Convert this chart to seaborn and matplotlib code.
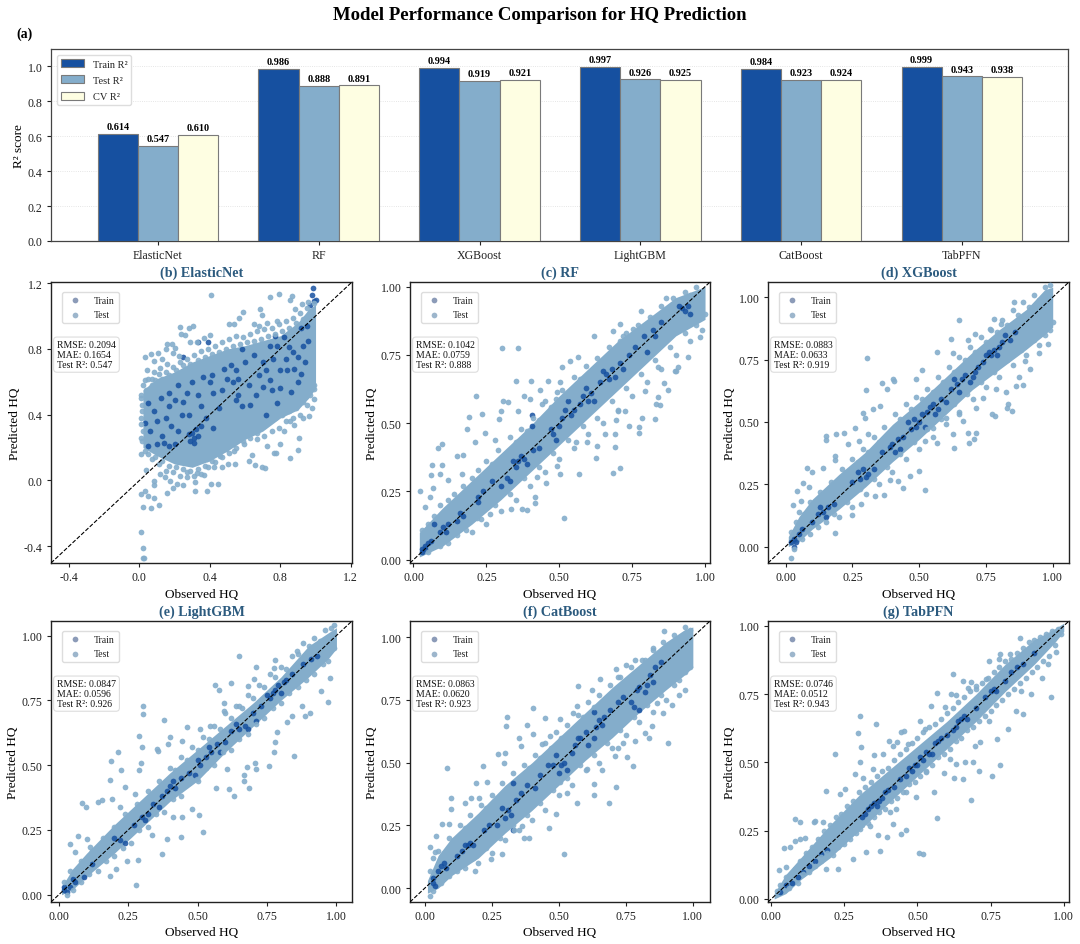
import numpy as np
import pandas as pd
import matplotlib
matplotlib.use("Agg")
import matplotlib.pyplot as plt
import matplotlib.ticker as mticker
import seaborn as sns

# Bar values
models = ["ElasticNet", "RF", "XGBoost", "LightGBM", "CatBoost", "TabPFN"]
train_r2 = [0.614, 0.986, 0.994, 0.997, 0.984, 0.999]
test_r2 = [0.547, 0.888, 0.919, 0.926, 0.923, 0.943]
cv_r2 = [0.610, 0.891, 0.921, 0.925, 0.924, 0.938]

# Error metrics in the text boxes
rmse = ["0.2094", "0.1042", "0.0883", "0.0847", "0.0863", "0.0746"]
mae = ["0.1654", "0.0759", "0.0633", "0.0596", "0.0620", "0.0512"]

# Scatter points. There are far too many to read one by one,
# so the solid core of each cloud is kept as a lo/hi envelope read at a few x values
# and only points that can be told apart, plus the rim of the cloud, are listed.
grid_x = [0.01, 0.05, 0.1, 0.2, 0.3, 0.4, 0.5, 0.6, 0.7, 0.8, 0.9, 0.97, 1.0]

en_core_x = [0.02, 0.1, 0.2, 0.3, 0.4, 0.5, 0.6, 0.7, 0.8, 0.9, 0.96, 1.0]
en_core_lo = [.2, .15, .1, .08, .12, .18, .25, .3, .38, .43, .5, .56]
en_core_hi = [.55, .62, .66, .72, .76, .8, .82, .85, .88, .96, 1.04, 1.07]
en_test = [(.404,1.13),(.743,1.117),(.792,1.136),(.866,1.12),(.853,1.10),(.588,1.026),(.682,1.045),(.696,1.004),(.563,.99),(.506,.953),(.535,.953),(.648,.953),(.677,.939),(.724,.96),(.781,.97),(.885,1.04),(.923,1.075),(.96,1.087),
    (.231,.933),(.282,.929),(.303,.939),(.237,.889),(.256,.885),(.155,.832),(.184,.832),(.402,.883),(.368,.864),(.326,.844),(.288,.844),(.203,.808),(.152,.802),(.193,.777),(.222,.757),(.03,.753),(.064,.767),(.104,.777),(.127,.737),(.085,.727),(.042,.67),(.08,.662),(.032,.611),(.07,.615),(.118,.686),(.155,.706),(.01,.50),(.013,.423),(.008,.342),(.008,.261),(.011,.16),
    (.038,.063),(.08,-.002),(.083,-.026),(.01,-.083),(.032,-.063),(.051,-.093),(.083,-.109),(.019,-.162),(.064,-.17),(.112,-.148),(.011,-.316),(.019,-.409),(.019,-.472),(.027,-.472),
    (.155,-.079),(.193,-.043),(.212,-.022),(.246,-.026),(.317,-.063),(.383,-.063),(.406,-.022),(.444,-.022),(.317,-.012),(.368,.034),(.118,.038),(.146,.018),(.174,-.002),(.269,.049),(.326,.043),(.421,.079),(.468,.079),(.502,.103),(.544,.103),(.62,.119),(.658,.093),(.696,.079),(.715,.075),(.639,.156),(.762,.17),(.777,.164),(.857,.134),(.899,.186),(.904,.261),(.876,.336),(.927,.379),(.961,.389),(.98,.443),(.99,.494),(.99,.555),(.8,.22),(.724,.21),(.667,.251),(.591,.22),(.535,.18),(.459,.15),(.383,.13),(.497,.241),(.819,.302),(.857,.362),(.923,.504)]
en_rim = [(.02,.58),(.04,.55),(.05,.62),(.07,.58),(.09,.61),(.11,.65),(.13,.62),(.15,.66),(.17,.64),(.19,.69),(.21,.67),(.23,.72),(.25,.7),(.27,.74),(.29,.71),(.31,.76),(.33,.73),(.35,.79),(.37,.75),(.39,.8),(.41,.77),(.43,.82),(.45,.78),(.47,.84),(.49,.8),(.51,.86),(.53,.82),(.55,.88),(.57,.83),(.59,.87),(.61,.84),(.63,.89),(.65,.85),(.67,.91),(.69,.86),(.71,.92),(.73,.88),(.75,.93),(.77,.89),(.79,.95),(.81,.91),(.83,.97),(.85,.93),(.87,.99),(.89,.96),(.91,1.02),(.93,.98),(.95,1.05),(.97,1.02),(.99,1.08),
    (.01,.52),(.015,.46),(.01,.38),(.02,.3),(.015,.24),(.03,.18),(.05,.16),(.07,.13),(.09,.14),(.11,.1),(.13,.12),(.15,.06),(.17,.09),(.19,.05),(.21,.08),(.23,.03),(.25,.07),(.27,.02),(.29,.06),(.31,.03),(.33,.07),(.35,.04),(.37,.09),(.39,.08),(.41,.12),(.43,.11),(.45,.16),(.47,.14),(.49,.19),(.51,.17),(.53,.22),(.55,.2),(.57,.26),(.59,.24),(.61,.28),(.63,.26),(.65,.31),(.67,.29),(.69,.34),(.71,.27),(.73,.36),(.75,.3),(.77,.38),(.79,.32),(.81,.4),(.83,.36),(.85,.42),(.87,.38),(.89,.44),(.91,.4),(.93,.48),(.95,.46),(.97,.52),(.99,.58)]
en_train = [(.30,.29),(.31,.26),(.32,.31),(.29,.24),(.33,.27),(.31,.23),(.28,.28),(.35,.33),(.1,.22),(.14,.23),(.17,.21),(.05,.21),(.2,.22),(.03,.35),(.05,.47),(.12,.5),(.17,.53),(.17,.45),(.2,.49),(.24,.4),(.27,.53),(.36,.63),(.4,.6),(.41,.64),(.42,.53),(.5,.62),(.53,.6),(.56,.52),(.55,.49),(.58,.45),(.62,.58),(.66,.52),(.7,.57),(.74,.61),(.8,.67),(.84,.67),(.86,.54),(.78,.47),(.72,.4),(.58,.8),(.65,.76),(.77,.88),(.82,.87),(.85,.81),(.92,.93),(.95,.94),(.98,1.13),(.99,1.09),(.97,1.07),(1.0,1.1),(.985,1.17),(.9,.75),(.93,.82),(.25,.75),(.22,.58),(.39,.84),(.33,.84),
    (.06,.3),(.08,.42),(.1,.36),(.13,.27),(.15,.38),(.18,.33),(.22,.3),(.25,.48),(.28,.4),(.3,.6),(.33,.52),(.35,.45),(.38,.38),(.42,.32),(.45,.44),(.47,.55),(.48,.68),(.52,.7),(.55,.67),(.56,.62),(.6,.72),(.63,.46),(.68,.64),(.7,.72),(.72,.67),(.75,.55),(.76,.74),(.8,.56),(.83,.74),(.88,.68),(.9,.6),(.92,.65),(.94,.72),(.96,.85),(.87,.78),(.78,.82),(.74,.82)]

rf_core_x = [0.02, 0.1, 0.2, 0.3, 0.4, 0.5, 0.6, 0.7, 0.8, 0.9, 1.0]
rf_core_lo = [.01, .05, .13, .22, .32, .42, .52, .62, .72, .82, .88]
rf_core_hi = [.1, .19, .29, .39, .49, .6, .7, .8, .88, .96, 1.0]
rf_test = [(.304,.777),(.358,.777),(.215,.60),(.19,.522),(.184,.479),(.234,.532),(.083,.409),(.098,.422),(.352,.653),(.308,.583),(.325,.579),(.403,.656),(.379,.60),(.301,.546),(.292,.516),
    (.517,.151),(.71,.337),(.684,.319),(.627,.371),(.566,.313),(.629,.415),(.692,.414),(.774,.465),(.774,.485),(.784,.519),(.828,.516),(.873,.622),(.86,.646),(.845,.568),(.839,.595),(.708,.863),(.78,.911),(.62,.82),(.865,.957),(.908,.707),(.94,.741),(.896,.692),
    (.064,.348),(.098,.347),(.059,.309),(.091,.315),(.148,.378),(.171,.382),(.211,.431),(.245,.463),(.28,.437),(.023,.251),(.068,.264),(.057,.23),(.04,.193),(.12,.291),(.166,.313),(.297,.327),
    (.388,.181),(.371,.184),(.333,.185),(.417,.208),(.417,.23),(.263,.169),(.217,.151),(.188,.142),(.454,.282),(.422,.303),(.502,.313),(.491,.345),(.559,.431),(.594,.431),(.656,.461),(.691,.461),(.74,.488),(.696,.51),(.725,.546),(.702,.546),(.793,.619),(.833,.571),(.839,.704),(.902,.692),(.982,.814),(.959,.869),(.685,.838),(.753,.844),(.719,.82),(.537,.729),(.565,.743),(.508,.707),(.462,.653),(.434,.622),(.491,.613),(.502,.65),(.44,.571),(.36,.546),(.4,.589)]
rf_rim = [(.03,.11),(.05,.13),(.07,.16),(.09,.2),(.1,.17),(.12,.22),(.14,.24),(.15,.21),(.17,.27),(.19,.25),(.2,.3),(.22,.33),(.24,.31),(.25,.36),(.27,.35),(.29,.4),(.31,.38),(.33,.45),(.35,.43),(.37,.48),(.39,.47),(.41,.52),(.43,.51),(.45,.58),(.47,.56),(.49,.59),(.51,.62),(.53,.6),(.55,.67),(.57,.66),(.59,.71),(.61,.69),(.63,.74),(.65,.72),(.67,.78),(.69,.76),(.71,.8),(.73,.83),(.75,.81),(.77,.86),(.79,.85),(.81,.89),(.83,.87),(.85,.93),(.87,.91),(.89,.96),(.91,.95),(.93,.98),(.95,.97),(.97,1.0),
    (.05,.03),(.09,.05),(.12,.06),(.15,.09),(.18,.11),(.2,.1),(.23,.15),(.25,.13),(.28,.2),(.3,.18),(.33,.24),(.35,.22),(.38,.3),(.4,.27),(.43,.34),(.45,.32),(.48,.39),(.5,.37),(.53,.44),(.55,.41),(.58,.49),(.6,.46),(.63,.52),(.65,.5),(.68,.58),(.7,.55),(.73,.63),(.75,.6),(.78,.68),(.8,.65),(.83,.73),(.85,.7),(.88,.78),(.9,.75),(.93,.83),(.95,.8),(.97,.86),(.99,.84),(1.0,.9),(.98,.92)]
rf_train = [(.03,.04),(.04,.05),(.05,.06),(.09,.1),(.1,.12),(.07,.13),(.16,.17),(.17,.16),(.22,.23),(.22,.21),(.32,.3),(.33,.29),(.36,.36),(.38,.37),(.35,.34),(.41,.4),(.48,.46),(.49,.44),(.5,.49),(.52,.55),(.54,.53),(.58,.6),(.6,.58),(.62,.58),(.66,.68),(.67,.66),(.68,.7),(.72,.7),(.74,.75),(.79,.82),(.8,.76),(.82,.84),(.92,.92),(.93,.91),(.95,.9),(.405,.53),(.405,.49),
    (.03,.03),(.04,.04),(.06,.07),(.11,.1),(.12,.13),(.15,.14),(.24,.25),(.27,.29),(.3,.27),(.34,.36),(.37,.38),(.39,.35),(.43,.41),(.47,.48),(.51,.52),(.53,.58),(.55,.55),(.57,.57),(.59,.63),(.61,.61),(.64,.65),(.65,.69),(.69,.67),(.71,.72),(.76,.78),(.83,.82),(.85,.87),(.91,.93),(.94,.93)]

xgb_core_lo = [0, .02, .07, .15, .24, .34, .43, .53, .63, .71, .79, .85, .88]
xgb_core_hi = [.04, .12, .19, .29, .38, .49, .58, .68, .78, .87, .95, 1.03, 1.04]
xgb_test = [(.304,.757),(.301,.628),(.36,.657),(.38,.633),(.401,.671),(.404,.664),(.509,.709),(.489,.673),(.568,.779),(.626,.775),(.621,.831),(.651,.909),(.78,.912),(.71,.851),(.683,.827),(.766,.871),(.856,.98),(.807,.891),(.291,.537),(.298,.515),(.326,.553),(.353,.565),(.15,.443),(.15,.427),(.19,.451),(.218,.455),(.258,.477),(.184,.364),(.184,.347),(.081,.317),(.098,.297),(.043,.224),(.064,.253),(.089,.24),(.026,.168),(.058,.181),(.276,.424),(.308,.451),(.233,.411),(.139,.315),
    (.02,-.045),(.184,.056),(.248,.128),(.283,.171),(.333,.204),(.37,.208),(.44,.235),(.52,.225),(.42,.264),(.464,.284),(.499,.301),(.389,.268),(.629,.397),(.568,.417),(.685,.415),(.705,.431),(.711,.455),(.683,.457),(.626,.451),(.664,.504),(.783,.524),(.774,.531),(.848,.543),(.834,.573),(.829,.557),(.789,.633),(.826,.621),(.861,.644),(.889,.648),(.874,.68),(.916,.713),(.949,.777),(.983,.813),(.895,.744),(.714,.557),(.739,.597),(.601,.517),(.651,.531),(.52,.424),(.551,.477)]
xgb_rim = [(.02,.06),(.04,.1),(.05,.14),(.07,.13),(.09,.18),(.11,.17),(.13,.22),(.15,.2),(.17,.26),(.19,.24),(.21,.31),(.23,.29),(.25,.35),(.27,.34),(.29,.39),(.31,.38),(.33,.44),(.35,.42),(.37,.48),(.39,.46),(.41,.53),(.43,.51),(.45,.57),(.47,.55),(.49,.6),(.51,.59),(.53,.63),(.55,.62),(.57,.68),(.59,.66),(.61,.72),(.63,.7),(.65,.76),(.67,.75),(.69,.8),(.71,.78),(.73,.84),(.75,.82),(.77,.87),(.79,.86),(.81,.91),(.83,.89),(.85,.95),(.87,.93),(.89,.98),(.91,.96),(.93,1.01),(.95,.99),(.97,1.04),(.99,1.05),
    (.03,-.01),(.06,.03),(.09,.05),(.12,.08),(.15,.1),(.18,.13),(.2,.12),(.23,.18),(.25,.16),(.28,.23),(.3,.21),(.33,.27),(.35,.25),(.38,.32),(.4,.3),(.43,.37),(.45,.35),(.48,.42),(.5,.39),(.53,.47),(.55,.44),(.58,.51),(.6,.49),(.63,.57),(.65,.54),(.68,.61),(.7,.59),(.73,.66),(.75,.64),(.78,.7),(.8,.68),(.83,.75),(.85,.73),(.88,.79),(.9,.77),(.93,.83),(.95,.81),(.97,.85),(.99,.87),(1.0,.9)]
xgb_train = [(.02,.02),(.03,.03),(.03,.0),(.06,.07),(.14,.14),(.15,.12),(.18,.17),(.13,.16),(.3,.28),(.31,.29),(.29,.31),(.28,.27),(.4,.41),(.42,.43),(.41,.38),(.47,.47),(.5,.5),(.52,.48),(.48,.51),(.54,.56),(.55,.57),(.57,.55),(.58,.59),(.64,.65),(.66,.67),(.65,.62),(.69,.66),(.71,.7),(.78,.79),(.77,.77),(.79,.77),(.81,.82),(.82,.85),(.74,.74),(.86,.86),
    (.04,.02),(.05,.05),(.1,.1),(.12,.13),(.16,.16),(.25,.26),(.27,.3),(.33,.31),(.36,.38),(.39,.4),(.43,.39),(.44,.44),(.46,.5),(.49,.48),(.51,.53),(.53,.54),(.56,.53),(.6,.58),(.62,.63),(.63,.67),(.67,.69),(.7,.68),(.72,.72),(.75,.77),(.76,.78),(.8,.8),(.84,.83)]

lgb_core_lo = [0, .02, .07, .16, .26, .36, .44, .55, .65, .75, .84, .91, .95]
lgb_core_hi = [.03, .1, .16, .27, .37, .47, .56, .65, .74, .84, .96, 1.01, 1.03]
lgb_test = [(.302,.73),(.304,.698),(.38,.676),(.29,.612),(.299,.57),(.215,.549),(.189,.516),(.225,.483),(.296,.507),(.29,.481),(.184,.443),(.083,.353),(.099,.338),(.143,.357),(.155,.366),(.191,.37),(.041,.195),(.071,.227),(.059,.165),(.103,.214),(.113,.184),(.462,.649),(.401,.609),(.395,.581),(.353,.562),(.359,.556),(.564,.808),(.578,.789),(.62,.818),(.649,.727),(.594,.739),(.594,.709),(.65,.921),(.78,.904),(.709,.878),(.681,.805),(.702,.831),(.774,.876),(.858,.94),(.51,.639),(.546,.652),(.444,.594),(.239,.415),(.275,.389),(.221,.338),
    (.278,.038),(.37,.157),(.441,.222),(.518,.241),(.389,.216),(.335,.229),(.245,.131),(.285,.133),(.185,.072),(.206,.099),(.63,.38),(.614,.408),(.567,.411),(.684,.411),(.666,.46),(.666,.44),(.756,.498),(.847,.536),(.774,.549),(.78,.588),(.708,.508),(.712,.485),(.678,.492),(.606,.485),(.498,.447),(.504,.309),(.48,.332),(.444,.3),(.413,.3),(.786,.626),(.822,.665),(.84,.69),(.888,.69),(.906,.703),(.969,.745),(.978,.837),(.945,.786),(.876,.729)]
lgb_rim = [(.02,.05),(.04,.09),(.06,.08),(.08,.13),(.1,.12),(.12,.17),(.14,.16),(.16,.22),(.18,.2),(.2,.26),(.22,.25),(.24,.31),(.26,.3),(.28,.35),(.3,.34),(.32,.4),(.34,.39),(.36,.44),(.38,.43),(.4,.49),(.42,.48),(.44,.53),(.46,.52),(.48,.57),(.5,.56),(.52,.61),(.54,.6),(.56,.65),(.58,.64),(.6,.7),(.62,.68),(.64,.73),(.66,.72),(.68,.77),(.7,.76),(.72,.81),(.74,.8),(.76,.85),(.78,.84),(.8,.88),(.82,.87),(.84,.92),(.86,.93),(.88,.97),(.9,.96),(.92,.99),(.94,.98),(.96,1.02),(.98,1.03),(.99,1.04),
    (.03,0),(.05,.02),(.08,.05),(.11,.08),(.14,.09),(.17,.13),(.2,.15),(.23,.18),(.26,.2),(.29,.25),(.32,.26),(.35,.31),(.38,.32),(.41,.37),(.44,.38),(.47,.43),(.5,.44),(.53,.49),(.56,.5),(.59,.55),(.62,.56),(.65,.6),(.68,.62),(.71,.66),(.74,.68),(.77,.72),(.8,.74),(.83,.78),(.86,.8),(.89,.83),(.92,.85),(.95,.89),(.97,.9),(.99,.95)]
lgb_train = [(.02,.02),(.03,.01),(.02,.03),(.06,.05),(.31,.29),(.32,.31),(.3,.3),(.22,.21),(.24,.2),(.37,.38),(.41,.44),(.4,.42),(.47,.47),(.51,.5),(.55,.55),(.58,.55),(.57,.58),(.65,.64),(.68,.64),(.71,.67),(.75,.77),(.78,.79),(.79,.81),(.76,.76),(.81,.82),(.82,.83),(.91,.91),
    (.04,.03),(.05,.06),(.09,.07),(.12,.12),(.2,.22),(.27,.27),(.34,.35),(.36,.34),(.39,.4),(.42,.41),(.44,.45),(.49,.46),(.5,.52),(.53,.53),(.54,.57),(.6,.59),(.62,.63),(.64,.66),(.67,.65),(.7,.7),(.73,.73),(.77,.78),(.8,.78),(.84,.85),(.88,.89),(.93,.92)]

cat_core_lo = [-.02, 0, .05, .12, .22, .31, .41, .51, .6, .7, .79, .85, .88]
cat_core_hi = [.03, .13, .2, .3, .41, .5, .6, .7, .8, .89, .98, 1.03, 1.04]
cat_test = [(.892,1.025),(.083,.478),(.099,.361),(.099,.315),(.043,.209),(.065,.257),(.089,.255),(.192,.418),(.217,.488),(.233,.423),(.151,.341),(.172,.361),(.201,.358),(.305,.683),(.303,.647),(.381,.648),(.403,.615),(.404,.716),(.447,.679),(.352,.597),(.36,.566),(.275,.533),(.3,.54),(.294,.497),(.567,.725),(.57,.804),(.625,.791),(.653,.833),(.712,.873),(.784,.907),(.751,.89),(.821,.91),(.722,.841),(.021,.163),(.04,.143),(.552,.698),(.505,.672),(.468,.606),(.437,.573),(.852,.956),
    (.186,.069),(.248,.115),(.288,.136),(.372,.198),(.388,.198),(.334,.233),(.463,.238),(.521,.138),(.491,.295),(.569,.34),(.63,.37),(.686,.339),(.713,.401),(.633,.414),(.66,.471),(.778,.487),(.756,.522),(.907,.577),(.835,.597),(.821,.619),(.849,.646),(.722,.56),(.784,.586),(.741,.577),(.71,.526),(.406,.421),(.418,.354),(.381,.328),(.53,.381),(.505,.421),(.604,.474),(.89,.698),(.921,.731),(.949,.771),(.97,.788),(.865,.738),(.362,.249)]
cat_rim = [(.02,.07),(.03,.12),(.05,.15),(.07,.14),(.09,.2),(.11,.19),(.13,.25),(.15,.24),(.17,.29),(.19,.27),(.21,.33),(.23,.32),(.25,.37),(.27,.36),(.29,.42),(.31,.4),(.33,.46),(.35,.44),(.37,.49),(.39,.48),(.41,.53),(.43,.52),(.45,.58),(.47,.56),(.49,.62),(.51,.6),(.53,.65),(.55,.63),(.57,.69),(.59,.68),(.61,.74),(.63,.72),(.65,.77),(.67,.75),(.69,.81),(.71,.79),(.73,.84),(.75,.82),(.77,.88),(.79,.86),(.81,.91),(.83,.89),(.85,.95),(.87,.93),(.89,.98),(.91,.96),(.93,1.01),(.95,.99),(.97,1.04),(.99,1.03),
    (.02,-.03),(.03,-.01),(.06,.02),(.09,.05),(.12,.07),(.15,.08),(.18,.12),(.2,.1),(.23,.16),(.25,.14),(.28,.2),(.3,.19),(.33,.25),(.35,.23),(.38,.29),(.4,.27),(.43,.34),(.45,.31),(.48,.39),(.5,.37),(.53,.44),(.55,.41),(.58,.49),(.6,.47),(.63,.53),(.65,.5),(.68,.58),(.7,.56),(.73,.63),(.75,.61),(.78,.68),(.8,.66),(.83,.73),(.85,.7),(.88,.77),(.9,.75),(.93,.81),(.95,.83),(.97,.86),(.99,.88)]
cat_train = [(.16,.17),(.17,.18),(.15,.17),(.06,.09),(.07,.1),(.03,.02),(.03,.04),(.31,.31),(.32,.29),(.33,.23),(.33,.42),(.41,.4),(.48,.49),(.5,.46),(.52,.5),(.53,.47),(.56,.57),(.58,.6),(.63,.6),(.65,.67),(.67,.68),(.63,.7),(.78,.72),(.8,.71),(.8,.8),(.82,.78),(.84,.85),(.86,.88),(.72,.74),(.22,.23),(.27,.25),
    (.04,.01),(.05,.07),(.08,.08),(.12,.13),(.14,.15),(.18,.17),(.24,.25),(.29,.32),(.3,.28),(.34,.35),(.36,.38),(.38,.41),(.43,.45),(.46,.49),(.49,.53),(.51,.49),(.55,.54),(.57,.6),(.6,.62),(.61,.57),(.64,.64),(.66,.65),(.69,.71),(.74,.76),(.77,.74),(.79,.79),(.83,.81),(.85,.82),(.88,.9)]

tab_core_lo = [0, .02, .07, .15, .25, .35, .45, .55, .65, .76, .86, .94, .98]
tab_core_hi = [.02, .09, .15, .27, .38, .47, .56, .65, .75, .86, .95, .99, 1.01]
tab_test = [(.303,.67),(.359,.641),(.295,.608),(.307,.555),(.217,.53),(.083,.294),(.098,.281),(.186,.396),(.042,.188),(.063,.19),(.08,.214),(.097,.22),(.114,.223),(.026,.108),(.051,.117),(.351,.529),(.381,.53),(.348,.476),(.302,.501),(.285,.458),(.314,.442),(.234,.385),(.251,.403),(.145,.281),(.148,.287),(.177,.281),(.445,.61),(.454,.614),(.403,.58),(.43,.576),(.416,.562),(.507,.653),(.466,.568),(.545,.705),(.566,.753),(.525,.622),(.621,.825),(.616,.75),(.633,.747),(.656,.799),(.684,.793),(.745,.872),(.781,.896),(.779,.878),(.815,.896),(.85,.956),(.593,.702),(.701,.781),(.735,.805),(.673,.771),
    (.504,.169),(.519,.164),(.567,.297),(.683,.364),(.371,.174),(.324,.172),(.229,.111),(.188,.111),(.445,.239),(.462,.253),(.396,.227),(.365,.233),(.418,.274),(.555,.393),(.59,.462),(.625,.443),(.656,.44),(.71,.467),(.755,.451),(.783,.492),(.773,.586),(.81,.622),(.69,.501),(.664,.501),(.633,.495),(.61,.513),(.713,.574),(.695,.562),(.745,.653),(.838,.687),(.861,.677),(.855,.762),(.889,.75),(.958,.738),(.924,.808),(.975,.905),(.946,.86),(.53,.464),(.462,.391),(.496,.373),(.428,.33),(.405,.318),(.336,.269),(.302,.257),(.262,.233),(.279,.147),(.171,.153),(.154,.172)]
tab_rim = [(.02,.03),(.03,.05),(.05,.08),(.06,.04),(.08,.11),(.09,.06),(.1,.14),(.11,.09),(.12,.17),(.13,.1),(.14,.19),(.15,.12),(.16,.22),(.17,.14),(.18,.25),(.19,.17),(.2,.27),(.21,.16),(.22,.3),(.23,.19),(.24,.31),(.25,.2),(.26,.34),(.27,.22),(.28,.36),(.29,.24),(.3,.39),(.31,.27),(.32,.41),(.33,.28),(.34,.43),(.35,.3),(.36,.45),(.37,.32),(.38,.47),(.39,.33),(.4,.48),(.41,.36),(.42,.51),(.43,.37),(.44,.53),(.45,.39),(.46,.55),(.47,.42),(.48,.57),(.49,.43),(.5,.59),(.51,.45),(.52,.61),(.53,.47),(.54,.63),(.55,.49),(.56,.64),(.57,.52),(.58,.66),(.59,.53),(.6,.68),(.61,.55),(.62,.7),(.63,.58),(.64,.72),(.65,.59),(.66,.74),(.67,.62),(.68,.76),(.69,.63),(.7,.77),(.71,.65),(.72,.79),(.73,.67),(.74,.81),(.75,.69),(.76,.83),(.77,.71),(.78,.85),(.79,.73),(.8,.87),(.81,.75),(.82,.88),(.83,.77),(.84,.9),(.85,.79),(.86,.92),(.87,.81),(.88,.94),(.89,.83),(.9,.95),(.91,.85),(.92,.96),(.93,.87),(.94,.97),(.95,.89),(.96,.98),(.97,.93),(.98,.99),(.99,.97)]
tab_train = [(.17,.165),(.32,.31),(.33,.33),(.35,.35),(.37,.36),(.39,.39),(.42,.41),(.48,.47),(.5,.49),(.51,.52),(.53,.54),(.56,.57),(.57,.58),(.64,.65),(.65,.66),(.66,.67),(.75,.76),(.76,.77),(.84,.85),(.82,.83),(.05,.05),(.09,.08),(.07,.06),(.13,.12),(.55,.53),
    (.03,.025),(.11,.1),(.15,.14),(.19,.18),(.31,.3),(.34,.34),(.36,.34),(.38,.37),(.4,.4),(.44,.44),(.46,.45),(.47,.48),(.49,.49),(.52,.51),(.54,.53),(.58,.59),(.6,.6),(.62,.62),(.63,.63),(.67,.66),(.7,.7),(.73,.74),(.77,.76),(.8,.8),(.86,.86),(.9,.9)]

panels = [
    ("(b) ElasticNet", en_core_x, en_core_lo, en_core_hi, en_test + en_rim, en_train, (-0.502, 1.207), [-0.4, 0.0, 0.4, 0.8, 1.2], "%.1f", (51, 283, 301, 281)),
    ("(c) RF", rf_core_x, rf_core_lo, rf_core_hi, rf_test + rf_rim, rf_train, (-0.012, 1.017), [0, .25, .5, .75, 1], "%.2f", (410, 283, 300, 281)),
    ("(d) XGBoost", grid_x, xgb_core_lo, xgb_core_hi, xgb_test + xgb_rim, xgb_train, (-0.066, 1.061), [0, .25, .5, .75, 1], "%.2f", (768, 283, 301, 281)),
    ("(e) LightGBM", grid_x, lgb_core_lo, lgb_core_hi, lgb_test + lgb_rim, lgb_train, (-0.028, 1.056), [0, .25, .5, .75, 1], "%.2f", (51, 622, 301, 281)),
    ("(f) CatBoost", grid_x, cat_core_lo, cat_core_hi, cat_test + cat_rim, cat_train, (-0.055, 1.064), [0, .25, .5, .75, 1], "%.2f", (410, 622, 300, 281)),
    ("(g) TabPFN", grid_x, tab_core_lo, tab_core_hi, tab_test + tab_rim, tab_train, (-0.011, 1.018), [0, .25, .5, .75, 1], "%.2f", (768, 622, 301, 281)),
]

TRAIN_COLOR = "#1650a0"
TEST_COLOR = "#84adcb"
CV_COLOR = "#fefee2"
TITLE_COLOR = "#2b5a7e"

sns.set_theme(style="white")
plt.rcParams["font.family"] = ["Liberation Serif", "DejaVu Serif"]

W, H = 1080, 945
fig = plt.figure(figsize=(W / 100, H / 100), dpi=100)


def px_axes(left, top, width, height):
    return fig.add_axes([left / W, 1 - (top + height) / H, width / W, height / H])


fig.text(0.5, 1 - 15 / H, "Model Performance Comparison for HQ Prediction", ha="center", va="center",
         fontsize=13.5, fontweight="bold", color="black")
fig.text(16 / W, 1 - 34 / H, "(a)", ha="left", va="center", fontsize=10, fontweight="bold", color="black")

# Bar panel
bars = pd.DataFrame({
    "model": models * 3,
    "kind": ["Train R²"] * 6 + ["Test R²"] * 6 + ["CV R²"] * 6,
    "r2": train_r2 + test_r2 + cv_r2,
})
ax = px_axes(51, 50, 1017, 192)
sns.barplot(data=bars, x="model", y="r2", hue="kind", order=models, ax=ax, width=0.75, gap=0, errorbar=None,
            palette=[TRAIN_COLOR, TEST_COLOR, CV_COLOR], edgecolor="#7a7a7a", linewidth=0.8, zorder=3, saturation=1)
for container in ax.containers:
    ax.bar_label(container, fmt="%.3f", padding=2, fontsize=7.4, fontweight="bold", color="black")
ax.set_xlim(-0.665, 5.66)
ax.set_ylim(0, 1.10)
ax.set_yticks([0, 0.2, 0.4, 0.6, 0.8, 1.0])
ax.set_xlabel("")
ax.set_ylabel("R² score", fontsize=9.5, color="black", labelpad=2)
ax.tick_params(axis="both", bottom=True, left=True, length=3, width=0.8, labelsize=8.6, colors="#222222", pad=3)
ax.grid(axis="y", linestyle=":", linewidth=0.6, color="#dddddd", zorder=0)
for s in ax.spines.values():
    s.set_color("#444444")
    s.set_linewidth(0.9)
ax.legend(loc="upper left", bbox_to_anchor=(0.006, 0.97), borderaxespad=0, fontsize=7.5, frameon=True,
          edgecolor="#dddddd", framealpha=1, handlelength=2.2, handleheight=0.8, labelspacing=0.65,
          labelcolor="#222222", title=None)

# Scatter panels
for i, (title, cx, lo, hi, test, train, lims, ticks, fmt, box) in enumerate(panels):
    ax = px_axes(*box)
    test = np.array(test)
    train = np.array(train)
    ax.fill_between(cx, lo, hi, color=TEST_COLOR, linewidth=0, zorder=1)
    sns.scatterplot(x=train[:, 0], y=train[:, 1], ax=ax, s=17, color=TRAIN_COLOR, alpha=0.85, linewidth=0,
                    label="Train", zorder=2)
    sns.scatterplot(x=test[:, 0], y=test[:, 1], ax=ax, s=17, color=TEST_COLOR, alpha=0.9, linewidth=0,
                    label="Test", zorder=3)
    ax.plot(lims, lims, color="black", linestyle="--", linewidth=0.8, zorder=4)
    ax.set_xlim(*lims)
    ax.set_ylim(*lims)
    ax.set_xticks(ticks)
    ax.set_yticks(ticks)
    ax.xaxis.set_major_formatter(mticker.FormatStrFormatter(fmt))
    ax.yaxis.set_major_formatter(mticker.FormatStrFormatter(fmt))
    ax.set_title(title, fontsize=10.2, fontweight="bold", color=TITLE_COLOR, pad=4.5)
    ax.set_xlabel("Observed HQ", fontsize=9.5, color="black", labelpad=3)
    ax.set_ylabel("Predicted HQ", fontsize=9.5, color="black", labelpad=2)
    ax.tick_params(axis="both", bottom=True, left=True, length=3, width=0.8, labelsize=8.6, colors="#222222", pad=3)
    for s in ax.spines.values():
        s.set_color("#222222")
        s.set_linewidth(1.0)
    leg = ax.legend(loc="upper left", bbox_to_anchor=(0.036, 0.965), borderaxespad=0, fontsize=7, frameon=True,
                    edgecolor="#dddddd", framealpha=1, handletextpad=0.9, labelspacing=0.55, labelcolor="#222222")
    leg.legend_handles[0].set_color("#8c9bb8")
    leg.legend_handles[0].set_alpha(1)
    leg.legend_handles[1].set_color("#9db6cc")
    leg.legend_handles[1].set_alpha(1)
    ax.text(0.02, 0.792, f"RMSE: {rmse[i]}\nMAE: {mae[i]}\nTest R²: {test_r2[i]:.3f}", transform=ax.transAxes,
            ha="left", va="top", fontsize=7, color="#111111", zorder=6, linespacing=1.1,
            bbox=dict(boxstyle="round,pad=0.35", facecolor="white", edgecolor="#dddddd", linewidth=0.8))

fig.savefig("out.png", dpi=100)
